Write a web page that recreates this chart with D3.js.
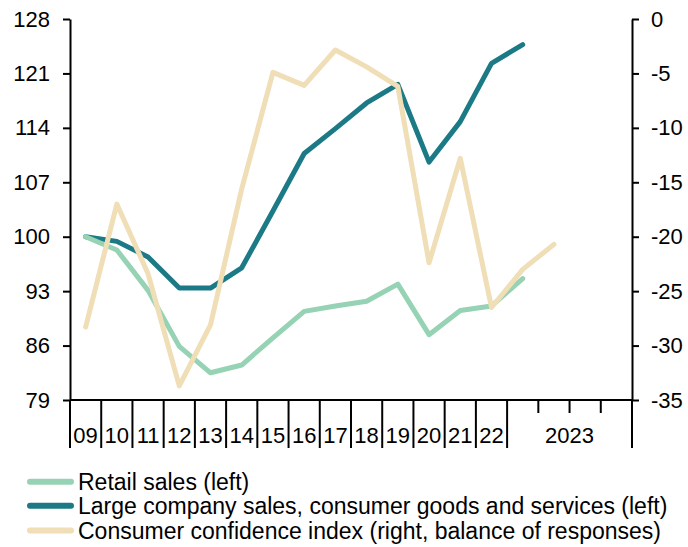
<!DOCTYPE html>
<html>
<head>
<meta charset="utf-8">
<script src="https://cdn.jsdelivr.net/npm/d3@7"></script>
<style>
  html, body { margin: 0; padding: 0; background: #fff; }
  svg { display: block; }
  text { font-family: "Liberation Sans", Arial, sans-serif; fill: #000; }
</style>
</head>
<body>
<svg id="chart" width="688" height="547"></svg>
<script>
// ---- Data ----
const categories = ["09","10","11","12","13","14","15","16","17","18","19","20","21","22","2023Q1","2023Q2","2023Q3","2023Q4"];
const yearLabels = ["09","10","11","12","13","14","15","16","17","18","19","20","21","22","2023"];
const retailSales = [100.0, 98.3, 93.1, 85.9, 82.5, 83.5, 87.0, 90.4, 91.1, 91.7, 93.9, 87.4, 90.5, 91.1, 94.6];
const largeCompanySales = [100.0, 99.4, 97.4, 93.4, 93.4, 96.0, 103.3, 110.7, 113.9, 117.2, 119.6, 109.6, 114.8, 122.3, 124.7];
const consumerConfidence = [-28.3, -17.0, -23.4, -33.7, -28.1, -15.6, -4.9, -6.1, -2.85, -4.4, -6.2, -22.4, -12.8, -26.5, -23.0, -20.7];
const leftTicks = [79, 86, 93, 100, 107, 114, 121, 128];
const rightTicks = [-35, -30, -25, -20, -15, -10, -5, 0];
const seriesNames = [
  "Retail sales (left)",
  "Large company sales, consumer goods and services (left)",
  "Consumer confidence index (right, balance of responses)"
];
const colors = ["#96d2b4", "#1b7a85", "#efdeb6"];

// ---- Layout ----
const mL = 70, mR = 632, mT = 19, mB = 400;
const svg = d3.select("#chart");

const x = d3.scaleBand().domain(categories).range([mL, mR]).padding(0);
const yL = d3.scaleLinear().domain([79, 128]).range([mB, mT]);
const yR = d3.scaleLinear().domain([-35, 0]).range([mB, mT]);

const lineL = d3.line().x((d, i) => x(categories[i]) + x.bandwidth() / 2).y(d => yL(d));
const lineR = d3.line().x((d, i) => x(categories[i]) + x.bandwidth() / 2).y(d => yR(d));

const series = [
  { data: retailSales, line: lineL, color: colors[0] },
  { data: largeCompanySales, line: lineL, color: colors[1] },
  { data: consumerConfidence, line: lineR, color: colors[2] }
];
const order = [1, 0, 2];
order.forEach(k => {
  const s = series[k];
  svg.append("path")
    .attr("d", s.line(s.data))
    .attr("fill", "none")
    .attr("stroke", s.color)
    .attr("stroke-width", 5)
    .attr("stroke-linejoin", "round")
    .attr("stroke-linecap", "round");
});

// Left axis
const axL = svg.append("g").attr("transform", `translate(${mL},0)`)
  .call(d3.axisLeft(yL).tickValues(leftTicks).tickSize(7).tickPadding(13).tickSizeOuter(0));
// Right axis
const axR = svg.append("g").attr("transform", `translate(${mR},0)`)
  .call(d3.axisRight(yR).tickValues(rightTicks).tickSize(7).tickPadding(12).tickSizeOuter(0));
[axL, axR].forEach(g => {
  g.select(".domain").attr("stroke", "#000").attr("stroke-width", 2);
  g.selectAll(".tick line").attr("stroke", "#000").attr("stroke-width", 2);
  g.selectAll(".tick text").style("font-size", "22px").style("font-family", "Liberation Sans, Arial, sans-serif");
});
axR.selectAll(".tick text").text(d => String(d));

// Bottom axis (category boundaries)
const gx = svg.append("g");
gx.append("line").attr("x1", mL).attr("x2", mR).attr("y1", mB).attr("y2", mB)
  .attr("stroke", "#000").attr("stroke-width", 2);
const boundaries = categories.map(c => ({ pos: x(c), long: !c.startsWith("2023") || c === "2023Q1" }));
boundaries.push({ pos: x.range()[1], long: true });
gx.selectAll("line.tk").data(boundaries).enter().append("line")
  .attr("class", "tk")
  .attr("x1", d => d.pos).attr("x2", d => d.pos)
  .attr("y1", mB).attr("y2", d => d.long ? 448 : 413)
  .attr("stroke", "#000").attr("stroke-width", 2);
gx.selectAll("text").data(yearLabels).enter().append("text")
  .attr("x", d => {
    if (d === "2023") return (x("2023Q1") + x.range()[1]) / 2;
    return x(d) + x.bandwidth() / 2;
  })
  .attr("y", 443)
  .attr("text-anchor", "middle")
  .style("font-size", "22px")
  .text(d => d);

// Legend
const legendY = [481.7, 505.7, 530.5];
const lg = svg.append("g");
seriesNames.forEach((name, i) => {
  lg.append("line").attr("x1", 30).attr("x2", 71).attr("y1", legendY[i]).attr("y2", legendY[i])
    .attr("stroke", colors[i]).attr("stroke-width", 6).attr("stroke-linecap", "round");
  lg.append("text").attr("x", 78).attr("y", legendY[i]).attr("dy", "0.35em")
    .style("font-size", "23px").text(name);
});
</script>
</body>
</html>
